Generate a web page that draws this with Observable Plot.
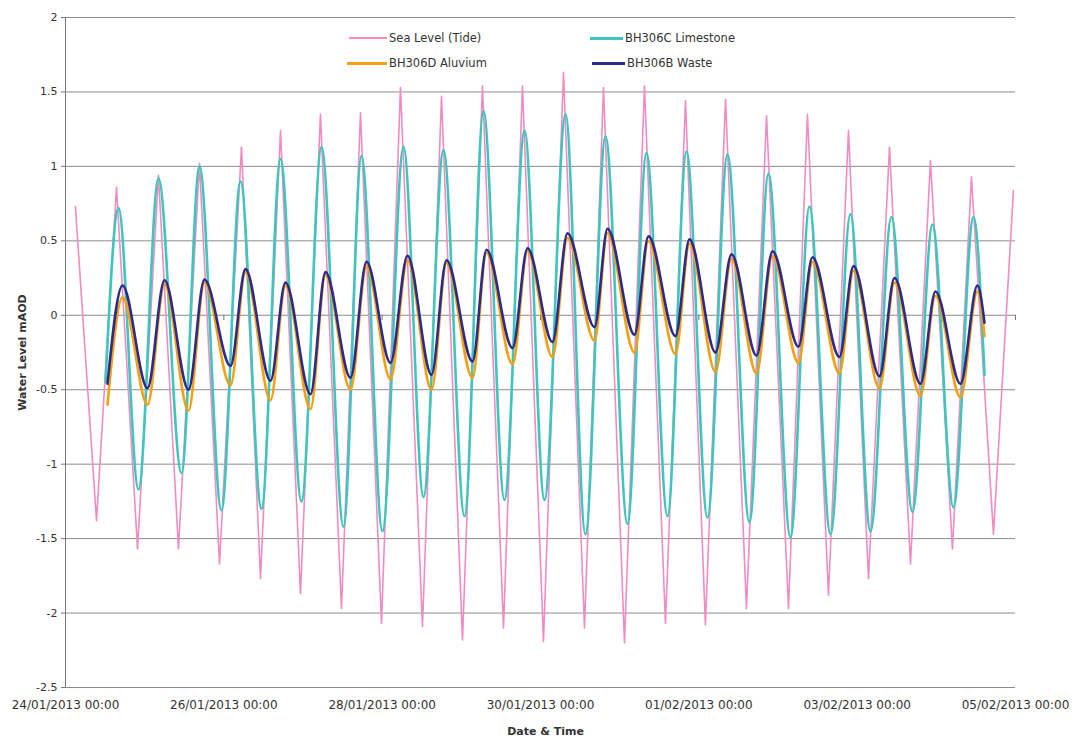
<!DOCTYPE html>
<html>
<head>
<meta charset="utf-8">
<script src="https://cdn.jsdelivr.net/npm/d3@7"></script>
<script src="https://cdn.jsdelivr.net/npm/@observablehq/plot@0.6"></script>
<style>
  html, body { margin: 0; padding: 0; background: #fff; }
  #wrap { position: relative; width: 1073px; height: 740px; font-family: "DejaVu Sans", sans-serif; color: #333; }
  .lg { position: absolute; font-size: 11.5px; line-height: 14px; white-space: nowrap; color: #333; }
  .sw { position: absolute; height: 0; }
</style>
</head>
<body>
<div id="wrap"></div>
<script>
// ---- data (extreme points of each tidal cycle) ----
const seriesNames = ["Sea Level (Tide)", "BH306C Limestone", "BH306D Aluvium", "BH306B Waste"];
const seriesColors = ["#F08CC2", "#3EC6BE", "#F5A012", "#2C2A8A"];

const seaTimes = [
"2013-01-24T03:00","2013-01-24T09:24","2013-01-24T15:28","2013-01-24T21:50",
"2013-01-25T04:11","2013-01-25T10:15","2013-01-25T16:37","2013-01-25T22:41",
"2013-01-26T05:21","2013-01-26T11:07","2013-01-26T17:11","2013-01-26T23:14",
"2013-01-27T05:18","2013-01-27T11:40","2013-01-27T17:26","2013-01-27T23:48",
"2013-01-28T05:33","2013-01-28T12:13","2013-01-28T17:59","2013-01-29T00:21",
"2013-01-29T06:25","2013-01-29T12:47","2013-01-29T18:32","2013-01-30T00:54",
"2013-01-30T06:58","2013-01-30T13:20","2013-01-30T19:06","2013-01-31T01:28",
"2013-01-31T07:31","2013-01-31T13:53","2013-01-31T19:57","2013-02-01T02:00",
"2013-02-01T08:05","2013-02-01T14:27","2013-02-01T20:31","2013-02-02T03:11",
"2013-02-02T08:56","2013-02-02T15:18","2013-02-02T21:22","2013-02-03T03:26",
"2013-02-03T09:48","2013-02-03T16:10","2013-02-03T22:13","2013-02-04T04:53",
"2013-02-04T10:39","2013-02-04T17:19","2013-02-04T23:23"];
const seaLevel = [
0.73,-1.38,0.86,-1.57, 0.94,-1.57,1.02,-1.67, 1.13,-1.77,1.24,-1.87,
1.35,-1.97,1.36,-2.07, 1.53,-2.09,1.47,-2.18, 1.54,-2.10,1.54,-2.19,
1.63,-2.10,1.53,-2.20, 1.54,-2.07,1.44,-2.08, 1.45,-1.97,1.34,-1.97,
1.35,-1.88,1.24,-1.77, 1.13,-1.67,1.04,-1.57, 0.93,-1.47,0.84];

const limeTimes = [
"2013-01-24T12:08","2013-01-24T16:04","2013-01-24T22:08",
"2013-01-25T04:11","2013-01-25T11:10","2013-01-25T16:37","2013-01-25T23:17",
"2013-01-26T05:03","2013-01-26T11:25","2013-01-26T17:11","2013-01-26T23:32",
"2013-01-27T05:37","2013-01-27T12:17","2013-01-27T17:44","2013-01-28T00:06",
"2013-01-28T06:28","2013-01-28T12:32","2013-01-28T18:35","2013-01-29T00:58",
"2013-01-29T06:43","2013-01-29T13:05","2013-01-29T19:09","2013-01-30T01:13",
"2013-01-30T07:35","2013-01-30T13:38","2013-01-30T19:42","2013-01-31T02:22",
"2013-01-31T08:08","2013-01-31T14:30","2013-01-31T20:16","2013-02-01T02:37",
"2013-02-01T08:41","2013-02-01T15:21","2013-02-01T21:07","2013-02-02T03:47",
"2013-02-02T09:32","2013-02-02T15:55","2013-02-02T21:58","2013-02-03T04:02",
"2013-02-03T10:24","2013-02-03T16:46","2013-02-03T22:50","2013-02-04T05:12",
"2013-02-04T11:16","2013-02-04T14:36"];
const limestone = [
-0.45,0.72,-1.17, 0.92,-1.06,1.00,-1.31, 0.90,-1.30,1.05,-1.25,
1.13,-1.42,1.07,-1.45, 1.13,-1.22,1.11,-1.35, 1.37,-1.24,1.24,-1.24,
1.35,-1.47,1.20,-1.40, 1.09,-1.35,1.10,-1.36, 1.08,-1.39,0.95,-1.49,
0.73,-1.47,0.68,-1.45, 0.66,-1.32,0.61,-1.29, 0.66,-0.40];

const gwTimes = [
"2013-01-24T12:44","2013-01-24T17:17","2013-01-25T00:52","2013-01-25T06:01","2013-01-25T13:17",
"2013-01-25T18:08","2013-01-26T02:01","2013-01-26T06:34","2013-01-26T14:09","2013-01-26T18:41",
"2013-01-27T02:16","2013-01-27T06:49","2013-01-27T14:24","2013-01-27T19:15","2013-01-28T02:31",
"2013-01-28T07:41","2013-01-28T14:57","2013-01-28T19:30","2013-01-29T03:23","2013-01-29T07:38",
"2013-01-29T15:31","2013-01-29T20:04","2013-01-30T03:38","2013-01-30T08:11","2013-01-30T16:22",
"2013-01-30T20:19","2013-01-31T04:29","2013-01-31T08:44","2013-01-31T16:55","2013-01-31T21:10",
"2013-02-01T05:03","2013-02-01T09:54","2013-02-01T17:29","2013-02-01T22:20","2013-02-02T06:13",
"2013-02-02T10:27","2013-02-02T18:38","2013-02-02T22:53","2013-02-03T06:46","2013-02-03T11:19",
"2013-02-03T19:11","2013-02-03T23:44","2013-02-04T07:19","2013-02-04T12:28","2013-02-04T14:36"];
const waste = [
-0.46, 0.20,-0.49, 0.235,-0.50, 0.24,-0.34, 0.31,-0.44, 0.22,-0.53, 0.29,-0.42, 0.36,-0.32,
0.40,-0.40, 0.37,-0.31, 0.44,-0.22, 0.45,-0.18, 0.55,-0.08, 0.58,-0.13, 0.53,-0.14, 0.51,-0.25,
0.41,-0.27, 0.43,-0.21, 0.39,-0.28, 0.33,-0.41, 0.25,-0.46, 0.16,-0.46, 0.20,-0.05];
const alluvium = [
-0.60, 0.12,-0.60, 0.21,-0.64, 0.22,-0.47, 0.29,-0.57, 0.20,-0.63, 0.27,-0.50, 0.33,-0.43,
0.37,-0.50, 0.35,-0.42, 0.42,-0.33, 0.43,-0.28, 0.52,-0.17, 0.55,-0.25, 0.50,-0.26, 0.48,-0.38,
0.38,-0.39, 0.40,-0.32, 0.36,-0.39, 0.30,-0.49, 0.22,-0.54, 0.13,-0.55, 0.16,-0.14];

const yTicks = [2, 1.5, 1, 0.5, 0, -0.5, -1, -1.5, -2, -2.5];
const xTickLabels = ["2013-01-24T00:00","2013-01-26T00:00","2013-01-28T00:00","2013-01-30T00:00",
                     "2013-02-01T00:00","2013-02-03T00:00","2013-02-05T00:00"];
const yTitle = "Water Level mAOD";
const xTitle = "Date & Time";

// ---- build tables ----
const parse = d3.utcParse("%Y-%m-%dT%H:%M");
const fmt = d3.utcFormat("%d/%m/%Y %H:%M");
const rows = (times, vals) => times.map((t, i) => ({time: parse(t), level: vals[i]}));
const seaRows = rows(seaTimes, seaLevel);
const limeRows = rows(limeTimes, limestone);
const alluRows = rows(gwTimes, alluvium);
const wasteRows = rows(gwTimes, waste);
const xTicks = xTickLabels.map(parse);

const chart = Plot.plot({
  width: 1073,
  height: 740,
  marginLeft: 65,
  marginRight: 58,
  marginTop: 17,
  marginBottom: 53,
  style: {fontFamily: "DejaVu Sans, sans-serif", fontSize: "11px", color: "#333", background: "#fff"},
  x: {type: "utc", domain: [xTicks[0], xTicks[xTicks.length - 1]]},
  y: {domain: [-2.5, 2]},
  marks: [
    Plot.gridY(yTicks, {stroke: "#8c8c8c", strokeOpacity: 1}),
    Plot.ruleX([xTicks[0]], {stroke: "#777"}),
    Plot.ruleX(xTicks, {y1: 0, y2: -0.035, stroke: "#777"}),
    Plot.axisY(yTicks, {tickFormat: d => String(d), tickSize: 4, tickPadding: 4, stroke: "#777", label: null}),
    Plot.axisX(xTicks, {tickFormat: fmt, tickSize: 0, tickPadding: 13, fontSize: 12, label: null}),
    Plot.line(seaRows, {x: "time", y: "level", stroke: seriesColors[0], strokeWidth: 1.6}),
    Plot.line(limeRows, {x: "time", y: "level", stroke: seriesColors[1], strokeWidth: 2.6, curve: "monotone-x"}),
    Plot.line(alluRows, {x: "time", y: "level", stroke: seriesColors[2], strokeWidth: 2.6, curve: "monotone-x"}),
    Plot.line(wasteRows, {x: "time", y: "level", stroke: seriesColors[3], strokeWidth: 2.6, curve: "monotone-x"}),
    Plot.text([yTitle], {frameAnchor: "left", dx: -43, rotate: -90, textAnchor: "middle", lineAnchor: "middle", fontWeight: "bold", fill: "#333"}),
    Plot.text([xTitle], {frameAnchor: "bottom", dx: 5, dy: 44, textAnchor: "middle", lineAnchor: "middle", fontWeight: "bold", fill: "#333"})
  ]
});

const wrap = document.getElementById("wrap");
wrap.appendChild(chart);

// ---- legend (inside plot area, top) ----
const legendPos = [
  {sx: 349, sw: 38, tx: 389, y: 38, th: 2},
  {sx: 590, sw: 33, tx: 625, y: 38, th: 3},
  {sx: 347, sw: 40, tx: 389, y: 63, th: 3},
  {sx: 592, sw: 33, tx: 627, y: 63, th: 3}
];
seriesNames.forEach((name, i) => {
  const p = legendPos[i];
  const s = document.createElement("div");
  s.className = "sw";
  s.style.left = p.sx + "px";
  s.style.width = p.sw + "px";
  s.style.top = (p.y - p.th / 2) + "px";
  s.style.borderTop = p.th + "px solid " + seriesColors[i];
  wrap.appendChild(s);
  const t = document.createElement("div");
  t.className = "lg";
  t.style.left = p.tx + "px";
  t.style.top = (p.y - 7) + "px";
  t.textContent = name;
  wrap.appendChild(t);
});
</script>
</body>
</html>
